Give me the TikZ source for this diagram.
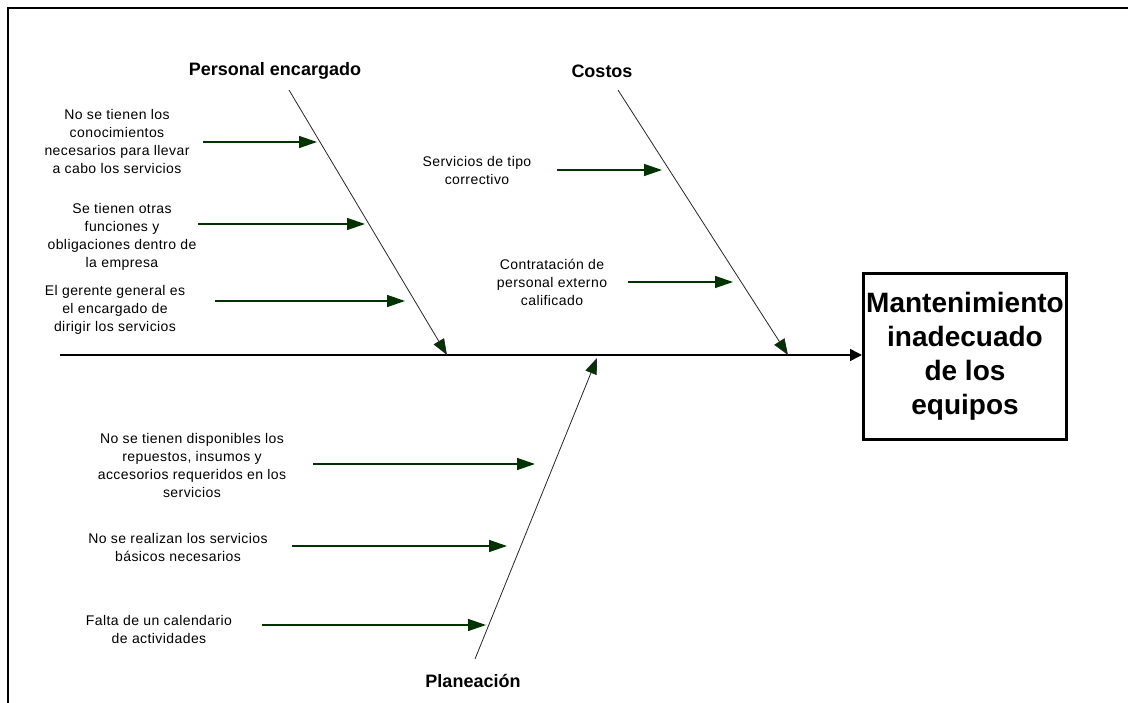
\documentclass[tikz,border=0pt]{standalone}
\usepackage{fontspec}
\setmainfont{Liberation Sans}
\newfontfamily\lsfont[LetterSpace=3]{Liberation Sans}
\usetikzlibrary{arrows.meta}
\definecolor{arrowgreen}{RGB}{0,51,0}
\tikzset{
  cause/.style={font=\lsfont\fontsize{14}{18}\selectfont, align=center, inner sep=0pt},
  cattitle/.style={font=\bfseries\fontsize{18}{22}\selectfont, inner sep=0pt},
  causearrow/.style={draw=arrowgreen, line width=1.4pt, -{Triangle[length=18pt,width=12pt,fill=arrowgreen]}},
  bonearrow/.style={draw=black!85, line width=0.8pt, -{Triangle[length=16pt,width=12pt,fill=arrowgreen]}},
  spinearrow/.style={draw=black, line width=1.6pt, -{Triangle[length=12pt,width=12pt]}},
  effectbox/.style={draw=black, line width=3pt, minimum width=203pt, minimum height=166pt,
    align=center, font=\bfseries\fontsize{28}{34}\selectfont, inner sep=0pt},
}
\begin{document}
\begin{tikzpicture}[x=1pt,y=-1pt]
\useasboundingbox (0,0) rectangle (1128,703);
\draw[line width=1.6pt] (8,703) coordinate (fl) -- (8,8) coordinate (ftl) -- (1128,8) coordinate (fr);

% effect box
\node[effectbox] (effect) at (965,356.5) {Mantenimiento\\inadecuado\\de los\\equipos};

% spine
\coordinate (spinestart) at (60,355);
\draw[spinearrow] (spinestart) -- (spinestart -| effect.west);

% titles
\node[cattitle] (tpers) at (275,71) {Personal encargado};
\node[cattitle] (tcost) at (602,71) {Costos};
\node[cattitle] (tplan) at (473,681) {Planeación};

% bones
\coordinate (pTop) at (289,90);  \coordinate (pEnd) at (447,355);
\coordinate (cTop) at (618,90);  \coordinate (cEnd) at (788,355);
\coordinate (lBot) at (475,659); \coordinate (lEnd) at (597,358);
\draw[bonearrow] (pTop) -- (pEnd);
\draw[bonearrow] (cTop) -- (cEnd);
\draw[bonearrow] (lBot) -- (lEnd);

% Personal encargado causes
\node[cause] (p1) at (117,141) {No se tienen los\\conocimientos\\necesarios para llevar\\a cabo los servicios};
\node[cause] (p2) at (122,237) {Se tienen otras\\funciones y\\obligaciones dentro de\\la empresa};
\node[cause] (p3) at (115,310) {El gerente general es\\el encargado de\\dirigir los servicios};
\coordinate (p1s) at (203,142); \coordinate (p1e) at (317,142);
\coordinate (p2s) at (198,224); \coordinate (p2e) at (365,224);
\coordinate (p3s) at (215,301); \coordinate (p3e) at (405,301);
\draw[causearrow] (p1s) -- (p1e);
\draw[causearrow] (p2s) -- (p2e);
\draw[causearrow] (p3s) -- (p3e);

% Costos causes
\node[cause] (c1) at (477,170) {Servicios de tipo\\correctivo};
\node[cause] (c2) at (552,282) {Contratación de\\personal externo\\calificado};
\coordinate (c1s) at (557,170); \coordinate (c1e) at (662,170);
\coordinate (c2s) at (628,282); \coordinate (c2e) at (733,282);
\draw[causearrow] (c1s) -- (c1e);
\draw[causearrow] (c2s) -- (c2e);

% Planeacion causes
\node[cause] (l1) at (192,465) {No se tienen disponibles los\\repuestos, insumos y\\accesorios requeridos en los\\servicios};
\node[cause] (l2) at (178,547) {No se realizan los servicios\\básicos necesarios};
\node[cause] (l3) at (159,629) {Falta de un calendario\\de actividades};
\coordinate (l1s) at (313,464); \coordinate (l1e) at (535,464);
\coordinate (l2s) at (292,546); \coordinate (l2e) at (507,546);
\coordinate (l3s) at (262,625); \coordinate (l3e) at (486,625);
\draw[causearrow] (l1s) -- (l1e);
\draw[causearrow] (l2s) -- (l2e);
\draw[causearrow] (l3s) -- (l3e);
\end{tikzpicture}
\end{document}
